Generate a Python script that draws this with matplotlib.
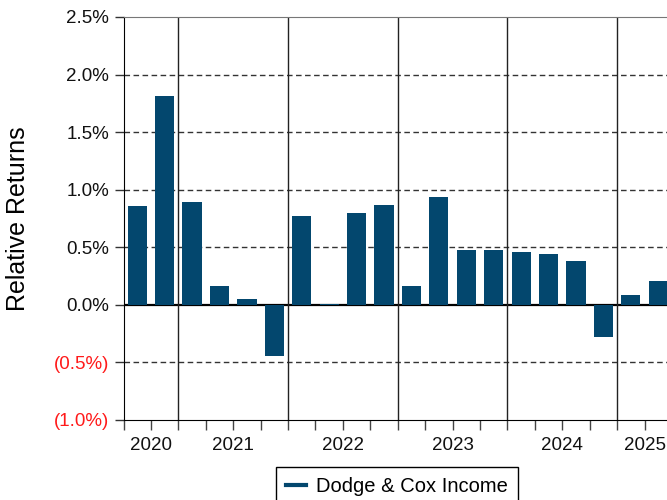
import numpy as np
import matplotlib
matplotlib.use("Agg")
import matplotlib.pyplot as plt
from matplotlib.lines import Line2D

plt.rcParams['font.family'] = ['Liberation Sans', 'DejaVu Sans']

# quarterly relative returns (%)
quarters = ["2020 Q3", "2020 Q4",
            "2021 Q1", "2021 Q2", "2021 Q3", "2021 Q4",
            "2022 Q1", "2022 Q2", "2022 Q3", "2022 Q4",
            "2023 Q1", "2023 Q2", "2023 Q3", "2023 Q4",
            "2024 Q1", "2024 Q2", "2024 Q3", "2024 Q4",
            "2025 Q1", "2025 Q2"]
returns = [0.86, 1.81,
           0.89, 0.16, 0.05, -0.44,
           0.775, 0.01, 0.80, 0.87,
           0.165, 0.935, 0.477, 0.475,
           0.46, 0.445, 0.38, -0.275,
           0.087, 0.21]
y_ticks = [-1.0, -0.5, 0.0, 0.5, 1.0, 1.5, 2.0, 2.5]
series_name = "Dodge & Cox Income"
bar_color = "#03476e"

years = [q.split()[0] for q in quarters]
x = np.arange(len(quarters))

fig = plt.figure(figsize=(6.67, 5.0), dpi=100)
ax = fig.add_axes([123.5 / 667, 80 / 500, 548.5 / 667, 403 / 500])

ax.bar(x, returns, width=0.7, color=bar_color, zorder=3)
ax.set_xlim(-0.5, len(quarters) - 0.5)
ax.set_ylim(-1.0, 2.5)

# grid lines
for v in y_ticks:
    if v == 0.0:
        ax.axhline(0, color="black", lw=1.6, zorder=2)
    elif v not in (-1.0, 2.5):
        ax.axhline(v, color="#333333", lw=1.0, ls=(0, (4, 2.5)), zorder=1)

# year separators + year labels
uniq = []
for y in years:
    if y not in uniq:
        uniq.append(y)
centers = []
for y in uniq:
    idx = [i for i, yy in enumerate(years) if yy == y]
    centers.append((idx[0] + idx[-1]) / 2)
    if idx[0] > 0:
        ax.axvline(idx[0] - 0.5, color="#222222", lw=1.0, zorder=2)

ax.xaxis.remove_overlapping_locs = False
ax.set_xticks(np.arange(-0.5, len(quarters), 1.0))
ax.set_xticklabels([])
ax.tick_params(axis="x", which="major", length=7, width=1.0, color="#444444", direction="out")
ax.set_xticks(centers, minor=True)
ax.set_xticklabels(uniq, minor=True, fontsize=13.5, color="#111111")
ax.tick_params(axis="x", which="minor", length=0, pad=12)

ax.set_yticks(y_ticks)
labels = []
for v in y_ticks:
    if v < 0:
        labels.append("({:.1f}%)".format(-v))
    else:
        labels.append("{:.1f}%".format(v))
ax.set_yticklabels(labels, fontsize=13.5)
for t, v in zip(ax.get_yticklabels(), y_ticks):
    if v < 0:
        t.set_color("#ff1a1a")
    else:
        t.set_color("#111111")
ax.tick_params(axis="y", length=6.5, width=1.0, color="#333333", pad=4)

ax.spines["left"].set_color("black")
ax.spines["bottom"].set_color("black")
ax.spines["top"].set_color("#777777")
ax.spines["right"].set_visible(False)

ax.set_ylabel("Relative Returns", fontsize=18, va="center")
ax.yaxis.set_label_coords(-0.192, 0.5)

handle = Line2D([0], [0], color=bar_color, lw=3)
fig.legend([handle], [series_name], loc="upper center",
           bbox_to_anchor=(397 / 667, 1 - 467 / 500), fontsize=14.5,
           frameon=True, fancybox=False, edgecolor="black", framealpha=1,
           handlelength=1.0, handletextpad=0.5, borderaxespad=0,
           borderpad=0.5)

fig.savefig("out.png", dpi=100)
